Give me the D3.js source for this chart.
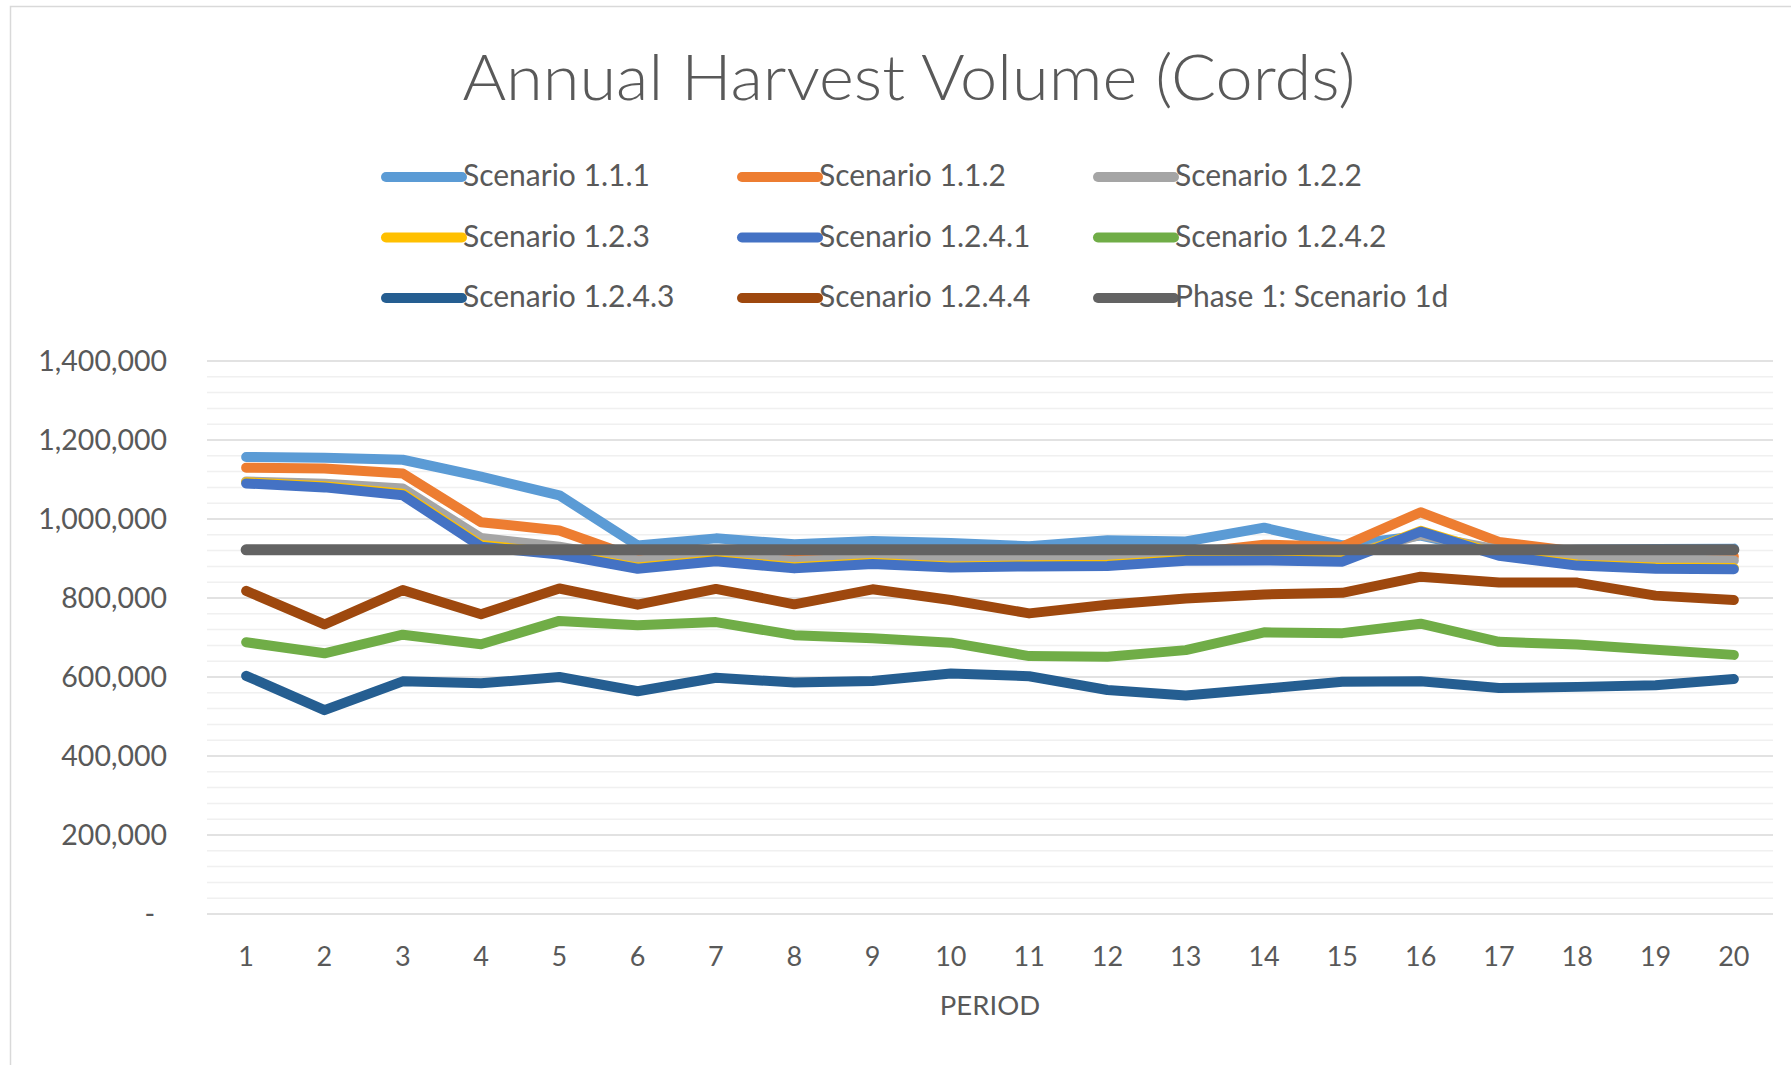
<!DOCTYPE html>
<html>
<head>
<meta charset="utf-8">
<script src="https://cdn.jsdelivr.net/npm/d3@7"></script>
<style>
  body { margin: 0; background: #fff; }
  svg { display: block; }
  text { font-family: Lato, "Open Sans", sans-serif; fill: #595959; }
</style>
</head>
<body>
<svg id="chart" width="1791" height="1065"></svg>
<script>
// ---------------- data ----------------
const periods = [1,2,3,4,5,6,7,8,9,10,11,12,13,14,15,16,17,18,19,20];

const seriesNames = [
  "Scenario 1.1.1", "Scenario 1.1.2", "Scenario 1.2.2",
  "Scenario 1.2.3", "Scenario 1.2.4.1", "Scenario 1.2.4.2",
  "Scenario 1.2.4.3", "Scenario 1.2.4.4", "Phase 1: Scenario 1d"
];

const seriesColors = [
  "#5B9BD5", "#ED7D31", "#A5A5A5",
  "#FFC000", "#4472C4", "#70AD47",
  "#255E91", "#9E480E", "#636363"
];

const scenario111  = [1157000,1155000,1150000,1107000,1060000,933000,951000,936000,944000,939000,931000,946000,943000,978000,933000,958000,915000,922000,924000,925000];
const scenario112  = [1130000,1128000,1115000,992000,971000,901000,915000,898000,905000,905000,905000,906000,913000,935000,930000,1017000,942000,917000,906000,905000];
const scenario122  = [1095000,1089000,1077000,952000,930000,895000,908000,893000,901000,897000,898000,900000,906000,910000,906000,960000,922000,905000,898000,895000];
const scenario123  = [1093000,1083000,1064000,934000,913000,877000,896000,878000,889000,880000,883000,884000,897000,898000,895000,970000,910000,885000,877000,876000];
const scenario1241 = [1090000,1080000,1060000,930000,910000,874000,893000,875000,886000,877000,880000,881000,894000,895000,892000,968000,907000,882000,874000,873000];
const scenario1242 = [688000,660000,707000,683000,742000,731000,739000,706000,698000,687000,653000,651000,668000,713000,711000,735000,689000,682000,669000,656000];
const scenario1243 = [603000,516000,589000,584000,600000,564000,598000,586000,590000,609000,602000,567000,553000,570000,588000,589000,572000,575000,579000,595000];
const scenario1244 = [818000,733000,820000,759000,824000,783000,823000,784000,822000,795000,761000,783000,799000,809000,813000,854000,839000,839000,806000,795000];
const phase1       = [922000,922000,922000,922000,922000,922000,922000,922000,922000,922000,922000,922000,922000,922000,922000,922000,922000,922000,922000,922000];

const seriesValues = [scenario111, scenario112, scenario122, scenario123,
  scenario1241, scenario1242, scenario1243, scenario1244, phase1];

const yTickValues = [0,200000,400000,600000,800000,1000000,1200000,1400000];
const yMinorStep = 40000;

const titleText = "Annual Harvest Volume (Cords)";
const xAxisTitle = "PERIOD";

// ---------------- layout ----------------
const svg = d3.select("#chart");
const plot = { left: 207, right: 1773, top: 361, bottom: 914 };

// chart border
svg.append("rect")
  .attr("x", 10.5).attr("y", 6.5)
  .attr("width", 1900).attr("height", 1200)
  .attr("fill", "none").attr("stroke", "#d9d9d9").attr("stroke-width", 1.5);

const x = d3.scaleBand().domain(periods).range([plot.left, plot.right]);
const y = d3.scaleLinear().domain([0, 1400000]).range([plot.bottom, plot.top]);
const cx = d => x(d) + x.bandwidth() / 2;

// minor gridlines
const minorTicks = d3.range(0, 1400000 + 1, yMinorStep).filter(v => v % 200000 !== 0);
svg.append("g").selectAll("line").data(minorTicks).join("line")
  .attr("x1", plot.left).attr("x2", plot.right)
  .attr("y1", d => y(d)).attr("y2", d => y(d))
  .attr("stroke", "#f0f0f0").attr("stroke-width", 1.5);

// major gridlines
svg.append("g").selectAll("line").data(yTickValues).join("line")
  .attr("x1", plot.left).attr("x2", plot.right)
  .attr("y1", d => y(d)).attr("y2", d => y(d))
  .attr("stroke", "#d9d9d9").attr("stroke-width", 1.5);

// y axis
const fmt = d3.format(",");
const yAxis = svg.append("g")
  .attr("transform", `translate(${plot.left},0)`)
  .call(d3.axisLeft(y).tickValues(yTickValues).tickSize(0).tickPadding(40)
    .tickFormat(d => d === 0 ? "-" : fmt(d)));
yAxis.select(".domain").remove();
yAxis.selectAll("text")
  .style("font-size", "28.5px").attr("fill", "#595959")
  .attr("dx", d => d === 0 ? -12 : 0);

// x axis
const xAxis = svg.append("g")
  .attr("transform", `translate(0,${plot.bottom})`)
  .call(d3.axisBottom(x).tickSize(0).tickPadding(33));
xAxis.select(".domain").remove();
xAxis.selectAll("text").style("font-size", "27px").attr("fill", "#595959");

// x axis title
svg.append("text")
  .attr("x", (plot.left + plot.right) / 2).attr("y", 1015)
  .attr("text-anchor", "middle").style("font-size", "27.5px")
  .text(xAxisTitle);

// title
svg.append("text")
  .attr("x", 909).attr("y", 100)
  .attr("text-anchor", "middle")
  .style("font-size", "64px").style("font-weight", 300)
  .attr("textLength", 893).attr("lengthAdjust", "spacingAndGlyphs")
  .text(titleText);

// lines
const line = d3.line().x((d, i) => cx(periods[i])).y(d => y(d));
const seriesData = seriesNames.map((name, i) => ({ name, color: seriesColors[i], values: seriesValues[i] }));

svg.append("g").selectAll("path").data(seriesData).join("path")
  .attr("d", d => line(d.values))
  .attr("fill", "none")
  .attr("stroke", d => d.color)
  .attr("stroke-width", (d, i) => i === seriesData.length - 1 ? 11 : 10)
  .attr("stroke-linecap", "round")
  .attr("stroke-linejoin", "round");

// legend
const legend = svg.append("g");
const legCol0 = 386, legColStep = 356, legRow0 = 177, legRowStep = 60.5, swatchW = 76;
const items = legend.selectAll("g").data(seriesData).join("g")
  .attr("transform", (d, i) => `translate(${legCol0 + (i % 3) * legColStep},${legRow0 + Math.floor(i / 3) * legRowStep})`);
items.append("line")
  .attr("x1", 0).attr("x2", swatchW).attr("y1", 0).attr("y2", 0)
  .attr("stroke", d => d.color).attr("stroke-width", 10).attr("stroke-linecap", "round");
items.append("text")
  .attr("x", swatchW + 1).attr("y", 9)
  .style("font-size", "30px")
  .text(d => d.name);
</script>
</body>
</html>
